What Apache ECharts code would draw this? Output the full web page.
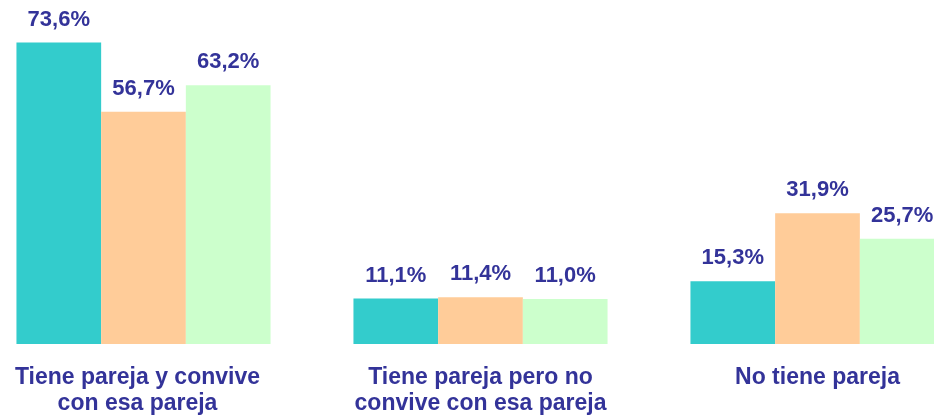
<!DOCTYPE html>
<html>
<head>
<meta charset="utf-8">
<script src="https://cdn.jsdelivr.net/npm/echarts@6/dist/echarts.min.js"></script>
<style>
  html, body { margin: 0; padding: 0; background: #fff; overflow: hidden; width: 934px; height: 418px; }
  #chart { position: absolute; left: -25px; top: 0; width: 1011px; height: 418px; }
</style>
</head>
<body>
<div id="chart"></div>
<script>
const categories = [
  "Tiene pareja y convive\ncon esa pareja",
  "Tiene pareja pero no\nconvive con esa pareja",
  "No tiene pareja"
];
const serieA = [73.6, 11.1, 15.3];
const serieB = [56.7, 11.4, 31.9];
const serieC = [63.2, 11.0, 25.7];

const colors = ["#33CCCC", "#FFCC99", "#CCFFCC"];
const textColor = "#333399";
const font = "Arial, 'Liberation Sans', sans-serif";

const fmt = (p) => p.value.toFixed(1).replace(".", ",") + "%";

const makeSeries = (name, data, color) => ({
  name: name,
  type: "bar",
  data: data,
  barGap: 0,
  barCategoryGap: "24.6%",
  itemStyle: { color: color },
  label: {
    show: true,
    position: "top",
    distance: 12,
    formatter: fmt,
    color: textColor,
    fontFamily: font,
    fontWeight: "bold",
    fontSize: 22
  }
});

const chart = echarts.init(document.getElementById("chart"));
chart.setOption({
  animation: false,
  grid: { left: 0, right: 0, top: 0, bottom: 74 },
  xAxis: {
    type: "category",
    data: categories.map((c, i) =>
      i === 0 ? { value: c, textStyle: { padding: [0, 12, 0, 0] } } : c
    ),
    axisLine: { show: false },
    axisTick: { show: false },
    axisLabel: {
      interval: 0,
      margin: 21,
      color: textColor,
      fontFamily: font,
      fontWeight: "bold",
      fontSize: 23,
      lineHeight: 26
    }
  },
  yAxis: {
    type: "value",
    min: 0,
    max: 84,
    show: false
  },
  series: [
    makeSeries("A", serieA, colors[0]),
    makeSeries("B", serieB, colors[1]),
    makeSeries("C", serieC, colors[2])
  ]
});
</script>
</body>
</html>
